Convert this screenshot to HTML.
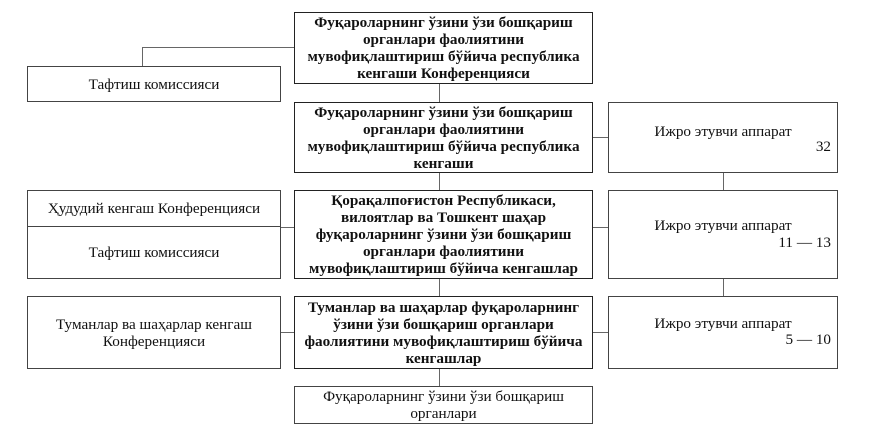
<!DOCTYPE html>
<html><head><meta charset="utf-8"><style>
body{margin:0;width:870px;height:448px;background:#fff;position:relative;overflow:hidden;font-family:"Liberation Serif",serif;color:#111}
.b{position:absolute;background:#fff;border:1.5px solid #444;box-sizing:border-box;display:flex;flex-direction:column;justify-content:center;text-align:center;font-size:15.2px;line-height:17px}
.bd{font-weight:bold;border-color:#222}
.l{position:absolute;background:#666}
.n{position:absolute;right:6px;font-size:15.2px}
</style></head><body>
<div class="l" style="left:142px;top:47px;width:152px;height:1px"></div>
<div class="l" style="left:142px;top:47px;width:1px;height:19px"></div>
<div class="l" style="left:439px;top:83px;width:1px;height:303px"></div>
<div class="l" style="left:592px;top:137px;width:16px;height:1px"></div>
<div class="l" style="left:592px;top:227px;width:16px;height:1px"></div>
<div class="l" style="left:280px;top:227px;width:14px;height:1px"></div>
<div class="l" style="left:592px;top:332px;width:16px;height:1px"></div>
<div class="l" style="left:280px;top:332px;width:14px;height:1px"></div>
<div class="l" style="left:723px;top:172px;width:1px;height:124px"></div>

<div class="b bd" style="left:294px;top:12px;width:299px;height:72px">Фуқароларнинг ўзини ўзи бошқариш<br>органлари фаолиятини<br>мувофиқлаштириш бўйича республика<br>кенгаши Конференцияси</div>
<div class="b" style="left:27px;top:66px;width:254px;height:36px">Тафтиш комиссияси</div>
<div class="b bd" style="left:294px;top:102px;width:299px;height:71px">Фуқароларнинг ўзини ўзи бошқариш<br>органлари фаолиятини<br>мувофиқлаштириш бўйича республика<br>кенгаши</div>
<div class="b" style="left:608px;top:102px;width:230px;height:71px;justify-content:flex-start;padding-top:20px">Ижро этувчи аппарат<span class="n" style="top:35px">32</span></div>
<div class="b bd" style="left:294px;top:190px;width:299px;height:89px">Қорақалпоғистон Республикаси,<br>вилоятлар ва Тошкент шаҳар<br>фуқароларнинг ўзини ўзи бошқариш<br>органлари фаолиятини<br>мувофиқлаштириш бўйича кенгашлар</div>
<div class="b" style="left:27px;top:190px;width:254px;height:37px">Ҳудудий кенгаш Конференцияси</div>
<div class="b" style="left:27px;top:226px;width:254px;height:53px">Тафтиш комиссияси</div>
<div class="b" style="left:608px;top:190px;width:230px;height:89px;justify-content:flex-start;padding-top:26px">Ижро этувчи аппарат<span class="n" style="top:43px">11 — 13</span></div>
<div class="b bd" style="left:294px;top:296px;width:299px;height:73px">Туманлар ва шаҳарлар фуқароларнинг<br>ўзини ўзи бошқариш органлари<br>фаолиятини мувофиқлаштириш бўйича<br>кенгашлар</div>
<div class="b" style="left:27px;top:296px;width:254px;height:73px">Туманлар ва шаҳарлар кенгаш<br>Конференцияси</div>
<div class="b" style="left:608px;top:296px;width:230px;height:73px;justify-content:flex-start;padding-top:18px">Ижро этувчи аппарат<span class="n" style="top:34px">5 — 10</span></div>
<div class="b" style="left:294px;top:386px;width:299px;height:38px">Фуқароларнинг ўзини ўзи бошқариш<br>органлари</div>
</body></html>
